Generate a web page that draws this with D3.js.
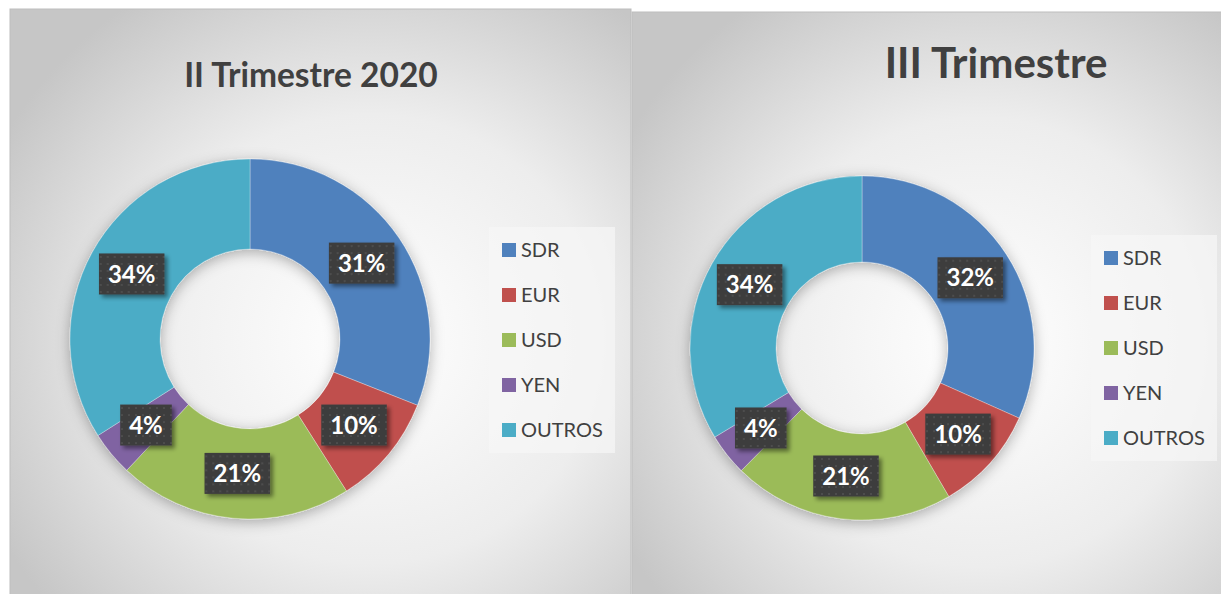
<!DOCTYPE html>
<html>
<head>
<meta charset="utf-8">
<script src="https://cdn.jsdelivr.net/npm/d3@7"></script>
<style>
  html, body { margin: 0; padding: 0; background: #fff; }
  svg { display: block; }
  text { font-family: Lato, "Open Sans", sans-serif; }
</style>
</head>
<body>
<svg id="chart" width="1221" height="594"></svg>
<script>
// data
var categories = ["SDR", "EUR", "USD", "YEN", "OUTROS"];
var valuesQ2 = [31, 10, 21, 4, 34];
var valuesQ3 = [32, 10, 21, 4, 34];
var titleQ2 = "II Trimestre 2020";
var titleQ3 = "III Trimestre";
var colors = ["#4F81BD", "#C0504D", "#9BBB59", "#8064A2", "#4BACC6"];

var svg = d3.select("#chart");
var defs = svg.append("defs");

// background gradient
var grad = defs.append("radialGradient").attr("id", "bg")
    .attr("cx", "58%").attr("cy", "55%").attr("r", "68%");
grad.append("stop").attr("offset", "0%").attr("stop-color", "#ffffff");
grad.append("stop").attr("offset", "55%").attr("stop-color", "#ededed");
grad.append("stop").attr("offset", "100%").attr("stop-color", "#c6c6c6");

// donut shadow
var f = defs.append("filter").attr("id", "ringShadow")
    .attr("x", "-20%").attr("y", "-20%").attr("width", "140%").attr("height", "140%");
f.append("feDropShadow").attr("dx", 0).attr("dy", 3).attr("stdDeviation", 7)
    .attr("flood-color", "#000").attr("flood-opacity", 0.3);

// label box shadow
var f2 = defs.append("filter").attr("id", "boxShadow")
    .attr("x", "-30%").attr("y", "-30%").attr("width", "160%").attr("height", "160%");
f2.append("feDropShadow").attr("dx", 3).attr("dy", 3).attr("stdDeviation", 2)
    .attr("flood-color", "#000").attr("flood-opacity", 0.45);

// dotted pattern for label boxes
var pat = defs.append("pattern").attr("id", "dots")
    .attr("width", 7).attr("height", 7).attr("patternUnits", "userSpaceOnUse");
pat.append("rect").attr("width", 7).attr("height", 7).attr("fill", "#3d3d3d");
pat.append("rect").attr("x", 3).attr("y", 3).attr("width", 2).attr("height", 2).attr("fill", "#4d4d4d");

function drawPanel(p, values, title) {
    var g = svg.append("g");

    g.append("rect")
        .attr("x", p.x).attr("y", p.y)
        .attr("width", p.w).attr("height", p.h)
        .attr("fill", "url(#bg)")
        .attr("stroke", "#bdbdbd").attr("stroke-width", 1);

    g.append("text")
        .attr("x", p.titleX).attr("y", p.titleY)
        .attr("text-anchor", "middle")
        .attr("font-size", p.titleSize)
        .attr("font-weight", "bold")
        .attr("fill", "#404040")
        .text(title);

    var pie = d3.pie().sort(null).value(function (d) { return d; });
    var arc = d3.arc().innerRadius(p.r).outerRadius(p.R);
    var arcs = pie(values);

    var donut = g.append("g")
        .attr("transform", "translate(" + p.cx + "," + p.cy + ")");

    donut.append("g").attr("filter", "url(#ringShadow)")
        .selectAll("path")
        .data(arcs)
        .enter().append("path")
        .attr("d", arc)
        .attr("fill", function (d, i) { return colors[i]; })
        .attr("stroke", "#ffffff").attr("stroke-opacity", 0.5).attr("stroke-width", 0.6);

    // labels
    var lab = donut.selectAll(".lab")
        .data(arcs)
        .enter().append("g")
        .attr("class", "lab")
        .attr("transform", function (d) {
            var c = arc.centroid(d);
            return "translate(" + c[0] + "," + c[1] + ")";
        });

    lab.each(function (d) {
        var s = d3.select(this);
        var t = s.append("text")
            .attr("text-anchor", "middle")
            .attr("dy", "0.36em")
            .attr("font-size", 24)
            .attr("font-weight", "bold")
            .attr("fill", "#ffffff")
            .text(d.data + "%");
        var w = t.node().getComputedTextLength() + 18;
        s.insert("rect", "text")
            .attr("x", -w / 2).attr("y", -20.5)
            .attr("width", w).attr("height", 41)
            .attr("fill", "url(#dots)")
            .attr("filter", "url(#boxShadow)");
    });

    // legend
    var leg = g.append("g");
    leg.append("rect")
        .attr("x", p.legX).attr("y", p.legY)
        .attr("width", 126).attr("height", 226)
        .attr("fill", "#f7f7f7").attr("fill-opacity", 0.7);

    var item = leg.selectAll(".item")
        .data(categories)
        .enter().append("g")
        .attr("class", "item")
        .attr("transform", function (d, i) {
            return "translate(" + (p.legX + 13) + "," + (p.legY + 23 + i * 45) + ")";
        });
    item.append("rect")
        .attr("x", 0).attr("y", -7)
        .attr("width", 14).attr("height", 14)
        .attr("fill", function (d, i) { return colors[i]; });
    item.append("text")
        .attr("x", 19).attr("dy", "0.36em")
        .attr("font-size", 20)
        .attr("fill", "#404040")
        .text(function (d) { return d; });
}

var left = { x: 10, y: 9, w: 621, h: 600, cx: 250, cy: 339, R: 180, r: 90,
    titleX: 311, titleY: 87, titleSize: 33.5, legX: 489, legY: 227 };
var right = { x: 632, y: 12, w: 600, h: 600, cx: 862, cy: 348, R: 172, r: 86,
    titleX: 996, titleY: 78, titleSize: 42, legX: 1091, legY: 235 };

drawPanel(left, valuesQ2, titleQ2);
drawPanel(right, valuesQ3, titleQ3);
</script>
</body>
</html>
